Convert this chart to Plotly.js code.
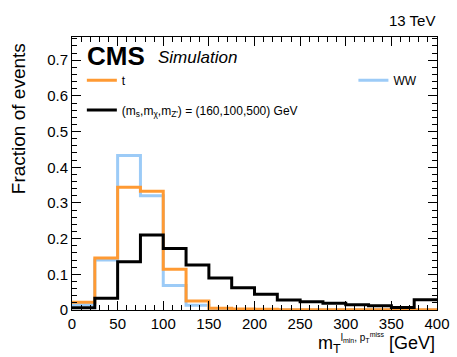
<!DOCTYPE html>
<html>
<head>
<meta charset="utf-8">
<script src="https://cdn.plot.ly/plotly-3.0.1.min.js"></script>
<style>
  body { margin: 0; background: #fff; }
  #mtGraph { width: 457px; height: 357px; }
</style>
</head>
<body>
<div id="mtGraph"></div>
<script>
// bin edges in GeV, 25 GeV bins
const binEdges = [0, 25, 50, 75, 100, 125, 150, 175, 200, 225, 250, 275, 300, 325, 350, 375, 400]

// fraction of events per bin
const ttValues = [0.022, 0.146, 0.344, 0.333, 0.114, 0.025, 0.005, 0.003, 0.002, 0.001, 0.001, 0.001, 0.001, 0.001, 0.0005, 0.0005]
const wwValues = [0.015, 0.140, 0.433, 0.320, 0.069, 0.013, 0.003, 0.001, 0.001, 0.0005, 0, 0, 0, 0, 0, 0]
const sigValues = [0.006, 0.033, 0.135, 0.210, 0.172, 0.126, 0.090, 0.062, 0.044, 0.028, 0.023, 0.019, 0.015, 0.012, 0.007, 0.029]

const xTicks = [0, 50, 100, 150, 200, 250, 300, 350, 400]
const yTicks = [0, 0.1, 0.2, 0.3, 0.4, 0.5, 0.6, 0.7]

const font = 'Liberation Sans, Arial, sans-serif'
const xRange = [0, 400]
const yRange = [0, 0.765]

// hv step line: repeat last bin content at the upper edge
const stepTrace = (values, name, color, legendId) => ({
  x: binEdges,
  y: values.concat([values[values.length - 1]]),
  name: name,
  type: 'scatter',
  mode: 'lines',
  line: { shape: 'hv', color: color, width: 3 },
  cliponaxis: false,
  legend: legendId,
})

const traces = [
  stepTrace(wwValues, 'WW', '#9ccbf7', 'legend2'),
  stepTrace(ttValues, 't', '#ff9a33', 'legend'),
  stepTrace(sigValues, '(m<sub>s</sub>,m<sub>χ</sub>,m<sub>Z\'</sub>) = (160,100,500) GeV', '#000000', 'legend3'),
  // empty trace so the top/right tick axes get drawn
  { x: [], y: [], xaxis: 'x2', yaxis: 'y2', type: 'scatter', mode: 'lines', showlegend: false, hoverinfo: 'skip' },
]

const legendBase = {
  bgcolor: 'rgba(0,0,0,0)',
  font: { family: font, size: 12, color: '#000' },
  itemwidth: 30,
  xanchor: 'left',
  yanchor: 'middle',
}

const axisBase = {
  showline: true,
  linecolor: '#000',
  linewidth: 1,
  mirror: true,
  ticks: 'inside',
  ticklen: 9,
  tickcolor: '#000',
  showgrid: false,
  zeroline: false,
  tickfont: { family: font, size: 15, color: '#000' },
}

const layout = {
  width: 457,
  height: 357,
  margin: { t: 37, b: 47, l: 72, r: 20 },
  paper_bgcolor: '#fff',
  plot_bgcolor: '#fff',
  showlegend: true,
  legend: Object.assign({ x: 0.027, y: 0.842 }, legendBase),
  legend2: Object.assign({ x: 0.771, y: 0.842 }, legendBase),
  legend3: Object.assign({ x: 0.027, y: 0.733 }, legendBase),
  xaxis: Object.assign({}, axisBase, {
    range: xRange,
    tickvals: xTicks,
    minor: { dtick: 10, ticklen: 5, tickcolor: '#000', ticks: 'inside' },
  }),
  yaxis: Object.assign({}, axisBase, {
    range: yRange,
    tickvals: yTicks,
    ticktext: yTicks.map(it => String(it)),
    minor: { dtick: 0.02, ticklen: 5, tickcolor: '#000', ticks: 'inside' },
  }),
  xaxis2: {
    overlaying: 'x', side: 'top', range: xRange, tickvals: xTicks,
    ticks: 'inside', ticklen: 9, tickcolor: '#000', showticklabels: false,
    showgrid: false, zeroline: false, showline: false,
    minor: { dtick: 10, ticklen: 5, tickcolor: '#000', ticks: 'inside' },
  },
  yaxis2: {
    overlaying: 'y', side: 'right', range: yRange, tickvals: yTicks,
    ticks: 'inside', ticklen: 9, tickcolor: '#000', showticklabels: false,
    showgrid: false, zeroline: false, showline: false,
    minor: { dtick: 0.02, ticklen: 5, tickcolor: '#000', ticks: 'inside' },
  },
  annotations: [
    {
      text: '<b>CMS</b>', xref: 'paper', yref: 'paper', x: 0.035, y: 0.93,
      xanchor: 'left', yanchor: 'middle', showarrow: false,
      font: { family: font, size: 26, color: '#000' },
    },
    {
      text: '<i>Simulation</i>', xref: 'paper', yref: 'paper', x: 0.23, y: 0.924,
      xanchor: 'left', yanchor: 'middle', showarrow: false,
      font: { family: font, size: 17, color: '#000' },
    },
    {
      text: '13 TeV', xref: 'paper', yref: 'paper', x: 1, y: 1,
      xanchor: 'right', yanchor: 'bottom', yshift: 6, showarrow: false,
      font: { family: font, size: 15, color: '#000' },
    },
    {
      text: 'Fraction of events', xref: 'paper', yref: 'paper', x: -0.146, y: 1,
      xanchor: 'center', yanchor: 'top', yshift: -4, textangle: -90, showarrow: false,
      font: { family: font, size: 19, color: '#000' },
    },
    {
      text: 'm<sub>T</sub><sup><span style="font-size:10px">l<sub>min</sub>, p<sub>T</sub><sup>miss</sup></span></sup> [GeV]',
      xref: 'paper', yref: 'paper', x: 1, y: 0,
      xanchor: 'right', yanchor: 'top', yshift: -19, showarrow: false,
      font: { family: font, size: 18, color: '#000' },
    },
  ],
}

Plotly.newPlot('mtGraph', traces, layout, { responsive: false, displayModeBar: false, staticPlot: true })
</script>
</body>
</html>
